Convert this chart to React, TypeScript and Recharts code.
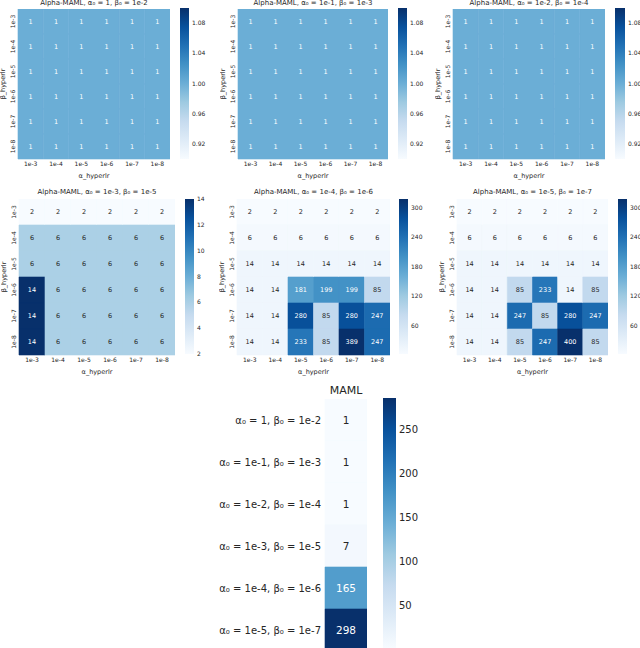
import React from "react";
import { BarChart, Bar, XAxis, YAxis, Cell, LabelList } from "recharts";

// grid axes (same for alpha_hyperlr columns and beta_hyperlr rows)
const hyperLrs = ["1e-3", "1e-4", "1e-5", "1e-6", "1e-7", "1e-8"];

// iterations per (beta_hyperlr row, alpha_hyperlr column)
const iters1 = [
  [1, 1, 1, 1, 1, 1],
  [1, 1, 1, 1, 1, 1],
  [1, 1, 1, 1, 1, 1],
  [1, 1, 1, 1, 1, 1],
  [1, 1, 1, 1, 1, 1],
  [1, 1, 1, 1, 1, 1],
];
const iters2 = [
  [1, 1, 1, 1, 1, 1],
  [1, 1, 1, 1, 1, 1],
  [1, 1, 1, 1, 1, 1],
  [1, 1, 1, 1, 1, 1],
  [1, 1, 1, 1, 1, 1],
  [1, 1, 1, 1, 1, 1],
];
const iters3 = [
  [1, 1, 1, 1, 1, 1],
  [1, 1, 1, 1, 1, 1],
  [1, 1, 1, 1, 1, 1],
  [1, 1, 1, 1, 1, 1],
  [1, 1, 1, 1, 1, 1],
  [1, 1, 1, 1, 1, 1],
];
const iters4 = [
  [2, 2, 2, 2, 2, 2],
  [6, 6, 6, 6, 6, 6],
  [6, 6, 6, 6, 6, 6],
  [14, 6, 6, 6, 6, 6],
  [14, 6, 6, 6, 6, 6],
  [14, 6, 6, 6, 6, 6],
];
const iters5 = [
  [2, 2, 2, 2, 2, 2],
  [6, 6, 6, 6, 6, 6],
  [14, 14, 14, 14, 14, 14],
  [14, 14, 181, 199, 199, 85],
  [14, 14, 280, 85, 280, 247],
  [14, 14, 233, 85, 389, 247],
];
const iters6 = [
  [2, 2, 2, 2, 2, 2],
  [6, 6, 6, 6, 6, 6],
  [14, 14, 14, 14, 14, 14],
  [14, 14, 85, 233, 14, 85],
  [14, 14, 247, 85, 280, 247],
  [14, 14, 85, 247, 400, 85],
];

const titles = [
  "Alpha-MAML, α₀ = 1, β₀ = 1e-2",
  "Alpha-MAML, α₀ = 1e-1, β₀ = 1e-3",
  "Alpha-MAML, α₀ = 1e-2, β₀ = 1e-4",
  "Alpha-MAML, α₀ = 1e-3, β₀ = 1e-5",
  "Alpha-MAML, α₀ = 1e-4, β₀ = 1e-6",
  "Alpha-MAML, α₀ = 1e-5, β₀ = 1e-7",
];

// colour limits and colorbar ticks
const flatDomain: [number, number] = [0.9, 1.1];
const flatTicks = [0.92, 0.96, 1.0, 1.04, 1.08];
const smallDomain: [number, number] = [2, 14];
const smallTicks = [2, 4, 6, 8, 10, 12, 14];
const bigDomain: [number, number] = [2, 318];
const bigTicks = [60, 120, 180, 240, 300];

const mamlLabels = [
  "α₀ = 1, β₀ = 1e-2",
  "α₀ = 1e-1, β₀ = 1e-3",
  "α₀ = 1e-2, β₀ = 1e-4",
  "α₀ = 1e-3, β₀ = 1e-5",
  "α₀ = 1e-4, β₀ = 1e-6",
  "α₀ = 1e-5, β₀ = 1e-7",
];
const mamlIters = [1, 1, 1, 7, 165, 298];
const mamlDomain: [number, number] = [1, 286];
const mamlTicks = [50, 100, 150, 200, 250];

const INK = "#262626";
const BLUES = ["#f7fbff", "#deebf7", "#c6dbef", "#9ecae1", "#6baed6", "#4292c6", "#2171b5", "#08519c", "#08306b"];

function hexRgb(h: string) {
  return [1, 3, 5].map((i) => parseInt(h.slice(i, i + 2), 16));
}

function bluesRgb(v: number, domain: [number, number]) {
  const t = Math.max(0, Math.min(1, (v - domain[0]) / (domain[1] - domain[0])));
  const s = t * 8;
  const i = Math.min(7, Math.floor(s));
  const f = s - i;
  const a = hexRgb(BLUES[i]);
  const b = hexRgb(BLUES[i + 1]);
  return a.map((c, k) => Math.round(c + (b[k] - c) * f));
}

function fillFor(v: number, domain: [number, number]) {
  const [r, g, b] = bluesRgb(v, domain);
  return `rgb(${r},${g},${b})`;
}

// seaborn picks dark or white annotation text from the cell luminance
function textFor(v: number, domain: [number, number]) {
  const lin = bluesRgb(v, domain).map((c) => {
    const x = c / 255;
    return x <= 0.03928 ? x / 12.92 : Math.pow((x + 0.055) / 1.055, 2.4);
  });
  const lum = 0.2126 * lin[0] + 0.7152 * lin[1] + 0.0722 * lin[2];
  return lum > 0.408 ? INK : "#ffffff";
}

const RotTick = (props: any) => {
  const { x, y, payload } = props;
  return (
    <text x={x} y={y} transform={`rotate(-90 ${x} ${y})`} textAnchor="middle" fontSize={6} fill={INK}>
      {payload.value}
    </text>
  );
};

const MamlTick = (props: any) => {
  const { x, y, payload } = props;
  return (
    <text x={x} y={y} textAnchor="end" dominantBaseline="central" fontSize={10} fill={INK}>
      {payload.value}
    </text>
  );
};

function Title({ text, cx, cy, size }: { text: string; cx: number; cy: number; size: number }) {
  return (
    <div
      style={{
        position: "absolute",
        left: cx - 120,
        top: cy - size / 2 - 1,
        width: 240,
        textAlign: "center",
        fontSize: size,
        lineHeight: `${size + 2}px`,
        color: INK,
        whiteSpace: "nowrap",
      }}
    >
      {text}
    </div>
  );
}

function Colorbar(props: {
  id: string;
  left: number;
  top: number;
  width: number;
  height: number;
  domain: [number, number];
  ticks: number[];
  fontSize: number;
  digits: number;
}) {
  const { id, left, top, width, height, domain, ticks, fontSize, digits } = props;
  const labelW = 30;
  const pad = 6;
  return (
    <div style={{ position: "absolute", left, top: top - pad }}>
      <BarChart
        width={width + labelW}
        height={height + 2 * pad}
        data={[{ k: "cb", range: domain }]}
        margin={{ top: pad, right: 0, bottom: pad, left: 0 }}
        barCategoryGap={0}
      >
        <defs>
          <linearGradient id={id} x1="0" y1="1" x2="0" y2="0">
            {BLUES.map((c, i) => (
              <stop key={i} offset={i / 8} stopColor={c} />
            ))}
          </linearGradient>
        </defs>
        <XAxis dataKey="k" type="category" hide />
        <YAxis
          orientation="right"
          type="number"
          domain={domain}
          ticks={ticks}
          interval={0}
          width={labelW}
          allowDataOverflow
          axisLine={false}
          tickLine={false}
          tickSize={1}
          tickMargin={2}
          tick={{ fontSize, fill: INK }}
          tickFormatter={(v: number) => v.toFixed(digits)}
        />
        <Bar dataKey="range" fill={`url(#${id})`} isAnimationActive={false} />
      </BarChart>
    </div>
  );
}

function Heatmap(props: {
  title: string;
  values: number[][];
  domain: [number, number];
  plotLeft: number;
  plotTop: number;
  plotW: number;
  plotH: number;
  titleY: number;
}) {
  const { title, values, domain, plotLeft, plotTop, plotW, plotH, titleY } = props;
  const axisW = 18;
  const axisH = 22;
  const data = hyperLrs.map((row, i) => {
    const d: Record<string, any> = { row };
    hyperLrs.forEach((_, j) => {
      d[`w${j}`] = 1;
      d[`v${j}`] = values[i][j];
    });
    return d;
  });
  return (
    <>
      <Title text={title} cx={plotLeft + plotW / 2} cy={titleY} size={7} />
      <div style={{ position: "absolute", left: plotLeft - axisW, top: plotTop }}>
        <BarChart
          width={axisW + plotW}
          height={plotH + axisH}
          data={data}
          layout="vertical"
          margin={{ top: 0, right: 0, bottom: 0, left: 0 }}
          barCategoryGap={0}
          barGap={0}
        >
          <XAxis
            type="number"
            domain={[0, hyperLrs.length]}
            ticks={hyperLrs.map((_, i) => i + 0.5)}
            tickFormatter={(v: number) => hyperLrs[Math.floor(v)]}
            interval={0}
            height={axisH}
            axisLine={false}
            tickLine={false}
            tickSize={2}
            tickMargin={1}
            tick={{ fontSize: 6, fill: INK }}
            label={{ value: "α_hyperlr", position: "insideBottom", offset: 3, fontSize: 6.5, fill: INK }}
          />
          <YAxis
            type="category"
            dataKey="row"
            width={axisW}
            interval={0}
            axisLine={false}
            tickLine={false}
            tickSize={2}
            tickMargin={1}
            tick={RotTick}
            label={{
              value: "β_hyperlr",
              angle: -90,
              position: "insideLeft",
              offset: 3,
              fontSize: 6.5,
              fill: INK,
              style: { textAnchor: "middle" },
            }}
          />
          {hyperLrs.map((_, j) => (
            <Bar key={j} dataKey={`w${j}`} stackId="s" isAnimationActive={false}>
              {values.map((row, i) => (
                <Cell key={i} fill={fillFor(row[j], domain)} stroke={fillFor(row[j], domain)} strokeWidth={0.6} />
              ))}
              <LabelList
                dataKey={`v${j}`}
                content={(p: any) => (
                  <text
                    x={p.x + p.width / 2}
                    y={p.y + p.height / 2}
                    textAnchor="middle"
                    dominantBaseline="central"
                    fontSize={6.5}
                    fill={textFor(p.value, domain)}
                  >
                    {p.value}
                  </text>
                )}
              />
            </Bar>
          ))}
        </BarChart>
      </div>
    </>
  );
}

function MamlColumn() {
  const axisW = 125;
  const colW = 42;
  const data = mamlLabels.map((label, i) => ({ label, w: 1, v: mamlIters[i] }));
  return (
    <>
      <Title text="MAML" cx={346} cy={390} size={11} />
      <div style={{ position: "absolute", left: 325 - axisW, top: 399 }}>
        <BarChart
          width={axisW + colW}
          height={252}
          data={data}
          layout="vertical"
          margin={{ top: 0, right: 0, bottom: 0, left: 0 }}
          barCategoryGap={0}
        >
          <XAxis type="number" domain={[0, 1]} hide />
          <YAxis
            type="category"
            dataKey="label"
            width={axisW}
            interval={0}
            axisLine={false}
            tickLine={false}
            tickSize={0}
            tickMargin={4}
            tick={MamlTick}
          />
          <Bar dataKey="w" isAnimationActive={false}>
            {mamlIters.map((v, i) => (
              <Cell key={i} fill={fillFor(v, mamlDomain)} stroke={fillFor(v, mamlDomain)} strokeWidth={0.6} />
            ))}
            <LabelList
              dataKey="v"
              content={(p: any) => (
                <text
                  x={p.x + p.width / 2}
                  y={p.y + p.height / 2}
                  textAnchor="middle"
                  dominantBaseline="central"
                  fontSize={10.5}
                  fill={textFor(p.value, mamlDomain)}
                >
                  {p.value}
                </text>
              )}
            />
          </Bar>
        </BarChart>
      </div>
      <Colorbar id="cb-maml" left={383} top={398} width={13} height={250} domain={mamlDomain} ticks={mamlTicks} fontSize={10} digits={0} />
    </>
  );
}

export default function App() {
  return (
    <div
      style={{
        position: "absolute",
        left: 0,
        top: 0,
        width: 640,
        height: 648,
        overflow: "hidden",
        background: "#ffffff",
        fontFamily: "'DejaVu Sans', sans-serif",
      }}
    >
      <Heatmap title={titles[0]} values={iters1} domain={flatDomain} plotLeft={18} plotTop={9} plotW={152} plotH={150} titleY={3} />
      <Colorbar id="cb1" left={180} top={8} width={9} height={151} domain={flatDomain} ticks={flatTicks} fontSize={6} digits={2} />
      <Heatmap title={titles[1]} values={iters2} domain={flatDomain} plotLeft={238} plotTop={9} plotW={150} plotH={150} titleY={3} />
      <Colorbar id="cb2" left={398} top={8} width={9} height={151} domain={flatDomain} ticks={flatTicks} fontSize={6} digits={2} />
      <Heatmap title={titles[2]} values={iters3} domain={flatDomain} plotLeft={453} plotTop={9} plotW={152} plotH={150} titleY={3} />
      <Colorbar id="cb3" left={615} top={8} width={10} height={151} domain={flatDomain} ticks={flatTicks} fontSize={6} digits={2} />

      <Heatmap title={titles[3]} values={iters4} domain={smallDomain} plotLeft={19} plotTop={199} plotW={156} plotH={156} titleY={192} />
      <Colorbar id="cb4" left={185} top={199} width={9} height={155} domain={smallDomain} ticks={smallTicks} fontSize={6} digits={0} />
      <Heatmap title={titles[4]} values={iters5} domain={bigDomain} plotLeft={237} plotTop={199} plotW={153} plotH={156} titleY={192} />
      <Colorbar id="cb5" left={399} top={199} width={9} height={155} domain={bigDomain} ticks={bigTicks} fontSize={6} digits={0} />
      <Heatmap title={titles[5]} values={iters6} domain={bigDomain} plotLeft={457} plotTop={199} plotW={151} plotH={156} titleY={192} />
      <Colorbar id="cb6" left={618} top={199} width={9} height={155} domain={bigDomain} ticks={bigTicks} fontSize={6} digits={0} />

      <MamlColumn />
    </div>
  );
}
